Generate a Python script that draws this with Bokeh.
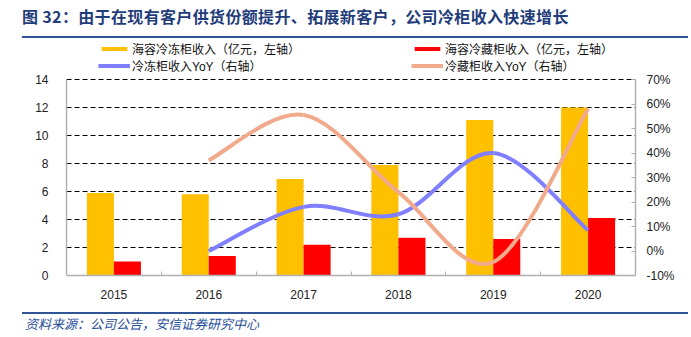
from bokeh.plotting import figure
from bokeh.models import (Range1d, LinearAxis, FixedTicker, PrintfTickFormatter, Legend, LegendItem,
                          ColumnDataSource, Div)
from bokeh.layouts import column
from bokeh.transform import dodge
from bokeh.embed import file_html
from bokeh.resources import INLINE

# ---- data ----
years = ["2015", "2016", "2017", "2018", "2019", "2020"]
freezer_rev = [5.9, 5.8, 6.9, 7.9, 11.1, 12.0]      # 海容冷冻柜收入（亿元）
fridge_rev = [1.0, 1.4, 2.2, 2.7, 2.6, 4.1]         # 海容冷藏柜收入（亿元）
yoy_years = ["2016", "2017", "2018", "2019", "2020"]
freezer_yoy = [0.0, 18.0, 15.0, 40.0, 8.5]          # 冷冻柜收入YoY (%)
fridge_yoy = [37.0, 55.5, 24.0, -4.5, 58.0]         # 冷藏柜收入YoY (%)
left_ticks = [0, 2, 4, 6, 8, 10, 12, 14]
right_ticks = [-10, 0, 10, 20, 30, 40, 50, 60, 70]
series_names = ["海容冷冻柜收入（亿元，左轴）", "海容冷藏柜收入（亿元，左轴）",
                "冷冻柜收入YoY（右轴）", "冷藏柜收入YoY（右轴）"]

title_text = "图 32：由于在现有客户供货份额提升、拓展新客户，公司冷柜收入快速增长"
source_text = "资料来源：公司公告，安信证券研究中心"

YELLOW = "#FFC000"
RED = "#FF0000"
BLUE = "#7F7FFF"
SALMON = "#F2AA8C"
NAVY = "#1F3D7A"
RULE = "#2F5597"
CJK = "Noto Sans CJK SC"
LAT = "Liberation Sans"

W = 691
TOP_H, FOOT_H = 40, 26
PH = 337 - TOP_H - FOOT_H           # figure height
FL, FR = 66, 635                    # frame left/right (page px)
AXIS_TOP = 79 - TOP_H               # y of the 14 / 70% line inside figure
FB = 275 - TOP_H                    # frame bottom inside figure

# frame spans from figure top to x-axis; value ranges extended so 14 / 70% sit at AXIS_TOP
ext = FB / (FB - AXIS_TOP)
L_MIN, L_MAX = 0, 14
R_MIN, R_MAX = -10, 70

xi = list(range(len(years)))
yoy_x = [years.index(y) for y in yoy_years]

p = figure(width=W, height=PH, output_backend="svg", toolbar_location=None,
           x_range=Range1d(-0.5, len(years) - 0.5),
           y_range=Range1d(L_MIN, L_MIN + (L_MAX - L_MIN) * ext),
           min_border_left=FL, min_border_right=W - FR, min_border_top=0, min_border_bottom=PH - FB,
           margin=0)
p.outline_line_color = None
p.background_fill_color = "white"
p.border_fill_color = "white"
p.extra_y_ranges = {"right": Range1d(R_MIN, R_MIN + (R_MAX - R_MIN) * ext)}

bw = 0.285
src = ColumnDataSource(dict(x=xi, freezer=freezer_rev, fridge=fridge_rev))
r_y = p.vbar(x=dodge("x", -bw / 2), top="freezer", width=bw, source=src, fill_color=YELLOW, line_color=None)
r_r = p.vbar(x=dodge("x", bw / 2), top="fridge", width=bw, source=src, fill_color=RED, line_color=None)


def smooth(xs, ys):
    n = len(xs)
    out = {k: [] for k in ["x0", "y0", "x1", "y1", "cx0", "cy0", "cx1", "cy1"]}
    for i in range(n - 1):
        pm = max(i - 1, 0)
        pn = min(i + 2, n - 1)
        out["x0"].append(xs[i]); out["y0"].append(ys[i])
        out["x1"].append(xs[i + 1]); out["y1"].append(ys[i + 1])
        out["cx0"].append(xs[i] + (xs[i + 1] - xs[pm]) / 6.0)
        out["cy0"].append(ys[i] + (ys[i + 1] - ys[pm]) / 6.0)
        out["cx1"].append(xs[i + 1] - (xs[pn] - xs[i]) / 6.0)
        out["cy1"].append(ys[i + 1] - (ys[pn] - ys[i]) / 6.0)
    return out


bz = dict(x0="x0", y0="y0", x1="x1", y1="y1", cx0="cx0", cy0="cy0", cx1="cx1", cy1="cy1",
          line_width=4, y_range_name="right")
r_b = p.bezier(source=ColumnDataSource(smooth(yoy_x, freezer_yoy)), line_color=BLUE, **bz)
r_s = p.bezier(source=ColumnDataSource(smooth(yoy_x, fridge_yoy)), line_color=SALMON, **bz)

# axes
AX = "#B0B0B0"
xa = p.xaxis[0]
xa.ticker = FixedTicker(ticks=xi, minor_ticks=[i + 0.5 for i in range(len(years))])
xa.major_label_overrides = {i: y for i, y in enumerate(years)}
xa.major_tick_line_color = None
xa.minor_tick_line_color = AX
xa.minor_tick_in = 4
xa.minor_tick_out = 0
xa.axis_line_color = AX
xa.axis_line_width = 1.5
xa.major_label_text_font = LAT
xa.major_label_text_font_size = "12px"
xa.major_label_text_color = "#222222"
xa.major_label_standoff = 8

ya = p.yaxis[0]
ya.ticker = FixedTicker(ticks=left_ticks)
ya.bounds = (L_MIN, L_MAX)
ya.major_tick_line_color = None
ya.minor_tick_line_color = None
ya.axis_line_color = AX
ya.axis_line_width = 1.5
ya.major_label_text_font = LAT
ya.major_label_text_font_size = "12px"
ya.major_label_text_color = "#222222"
ya.major_label_standoff = 12

ra = LinearAxis(y_range_name="right", ticker=FixedTicker(ticks=right_ticks),
                formatter=PrintfTickFormatter(format="%d%%"), bounds=(R_MIN, R_MAX))
ra.major_tick_line_color = AX
ra.major_tick_in = 4
ra.major_tick_out = 0
ra.minor_tick_line_color = None
ra.axis_line_color = AX
ra.axis_line_width = 1.5
ra.major_label_text_font = LAT
ra.major_label_text_font_size = "12px"
ra.major_label_text_color = "#222222"
ra.major_label_standoff = 11
p.add_layout(ra, "right")

p.xgrid.grid_line_color = None
p.ygrid.ticker = FixedTicker(ticks=left_ticks[1:])
p.ygrid.grid_line_color = "black"
p.ygrid.grid_line_dash = "5 3"
p.ygrid.grid_line_width = 1

# legend: two columns, each its own legend, inside the (extended) frame above the 14 line
LEG_BOTTOM = 74 - TOP_H   # figure y of legend bottom
common = dict(background_fill_alpha=0, border_line_color=None, padding=0, margin=0, spacing=0,
              label_height=14, glyph_height=5, glyph_width=32, label_standoff=2,
              label_text_font="Liberation Sans, Noto Sans CJK SC", label_text_font_size="12px",
              label_text_color="#111111", label_text_line_height=1.0)
leg1 = Legend(items=[LegendItem(label=series_names[0], renderers=[r_y]),
                     LegendItem(label=series_names[2], renderers=[r_b])],
              location=(98 - FL, FB - LEG_BOTTOM), **common)
leg2 = Legend(items=[LegendItem(label=series_names[1], renderers=[r_r]),
                     LegendItem(label=series_names[3], renderers=[r_s])],
              location=(411 - FL, FB - LEG_BOTTOM), **common)
p.add_layout(leg1)
p.add_layout(leg2)

title_div = Div(width=W, height=TOP_H, margin=0, text=(
    '<div style="position:relative;width:%dpx;height:%dpx;">'
    '<div style="position:absolute;left:22px;top:5px;white-space:nowrap;font-family:\'%s\';'
    'font-size:16px;font-weight:bold;color:%s;line-height:22px;letter-spacing:0.35px;">%s</div>'
    '<div style="position:absolute;left:22px;top:36px;width:666px;height:2px;background:%s;"></div>'
    '</div>') % (W, TOP_H, CJK, NAVY, title_text, RULE))
foot_div = Div(width=W, height=FOOT_H, margin=0, text=(
    '<div style="position:relative;width:%dpx;height:%dpx;">'
    '<div style="position:absolute;left:22px;top:1px;width:666px;height:1.5px;background:%s;"></div>'
    '<div style="position:absolute;left:25px;top:4px;white-space:nowrap;font-family:\'%s\';'
    'font-size:13px;font-style:italic;color:#1F4E9A;line-height:18px;">%s</div>'
    '</div>') % (W, FOOT_H, RULE, CJK, source_text))

layout = column(title_div, p, foot_div, spacing=0, margin=0)
open("out.html", "w").write(file_html(layout, INLINE))
